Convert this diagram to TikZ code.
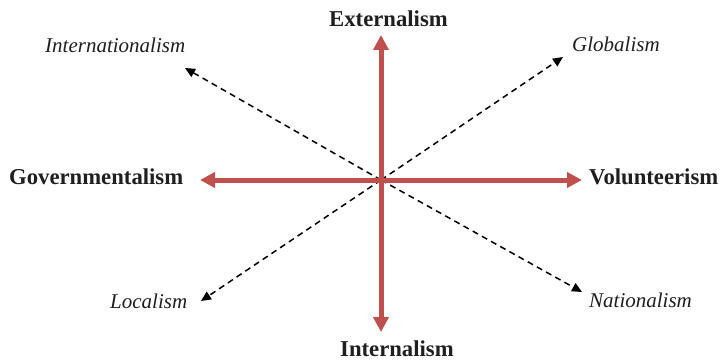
\documentclass[tikz,border=0pt]{standalone}
\usepackage{fontspec}
\setmainfont{Liberation Serif}
\usetikzlibrary{arrows.meta}
\definecolor{axisred}{RGB}{192,80,77}
\begin{document}
\begin{tikzpicture}[x=1pt,y=-1pt,
  axis/.style={draw=axisred,line width=5pt,-{Triangle[length=15pt,width=15pt]}},
  diag/.style={draw=black,line width=1.5pt,dash pattern=on 6pt off 4.5pt,-{Triangle[length=10pt,width=9pt]}},
  mainlab/.style={anchor=base west,inner sep=0pt,font=\fontsize{22.7}{26}\selectfont\bfseries,text=black!88},
  sublab/.style={anchor=base west,inner sep=0pt,font=\fontsize{21}{25}\selectfont\itshape,text=black!88}]
\useasboundingbox (0,0) rectangle (724,361);
\coordinate (c) at (381,180);
\coordinate (up) at (381,35);
\coordinate (down) at (381,332);
\coordinate (left) at (200,180);
\coordinate (right) at (582,180);
\coordinate (ul) at (185,68);
\coordinate (ur) at (563,57);
\coordinate (ll) at (201,301);
\coordinate (lr) at (582,292);
\draw[diag] (c) -- (ul);
\draw[diag] (c) -- (ur);
\draw[diag] (c) -- (ll);
\draw[diag] (c) -- (lr);
\draw[axis] (c) -- (up);
\draw[axis] (c) -- (down);
\draw[axis] (c) -- (left);
\draw[axis] (c) -- (right);
\node[mainlab] (ext) at (329,27) {Externalism};
\node[mainlab] (int) at (340,356.5) {Internalism};
\node[mainlab] (gov) at (9,185) {Governmentalism};
\node[mainlab] (vol) at (589,185) {Volunteerism};
\node[sublab] (intl) at (45,53) {Internationalism};
\node[sublab] (glob) at (572,52) {Globalism};
\node[sublab] (loc) at (110,308) {Localism};
\node[sublab] (nat) at (589,307) {Nationalism};
\end{tikzpicture}
\end{document}
